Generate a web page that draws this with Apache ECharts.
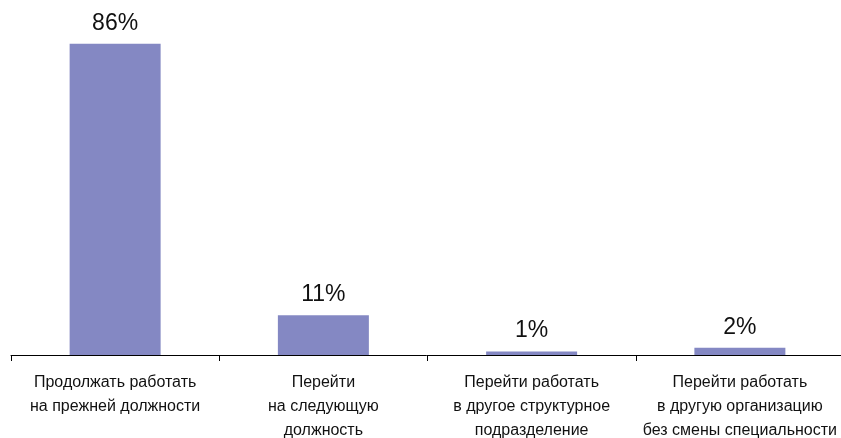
<!DOCTYPE html>
<html>
<head>
<meta charset="utf-8">
<script src="https://cdn.jsdelivr.net/npm/echarts@6/dist/echarts.min.js"></script>
<style>
  html, body { margin: 0; padding: 0; background: #ffffff; }
  #chart { width: 841px; height: 438px; }
</style>
</head>
<body>
<div id="chart"></div>
<script>
// Categories (multi-line labels) and shares in percent
const categories = [
  'Продолжать работать\nна прежней должности',
  'Перейти\nна следующую\nдолжность',
  'Перейти работать\nв другое структурное\nподразделение',
  'Перейти работать\nв другую организацию\nбез смены специальности'
];
const shares = [86, 11, 1, 2];

const chart = echarts.init(document.getElementById('chart'));
chart.setOption({
  animation: false,
  grid: { left: 11, right: -3, top: -7, bottom: 83, containLabel: false, outerBoundsMode: 'none' },
  xAxis: {
    type: 'category',
    data: categories,
    boundaryGap: true,
    axisLine: { show: true, lineStyle: { color: '#000000', width: 1 } },
    axisTick: { show: true, length: 6, inside: false, alignWithLabel: false, lineStyle: { color: '#000000' } },
    axisLabel: {
      color: '#111111',
      fontFamily: '"Liberation Sans", Arial, sans-serif',
      fontSize: 16,
      lineHeight: 24,
      margin: 16,
      interval: 0,
      hideOverlap: false
    }
  },
  yAxis: {
    type: 'value',
    min: 0,
    max: 100,
    show: false,
    splitLine: { show: false }
  },
  series: [{
    type: 'bar',
    data: shares,
    barWidth: 91,
    itemStyle: { color: '#8488c3' },
    label: {
      show: true,
      position: 'top',
      distance: 9,
      formatter: '{c}%',
      color: '#111111',
      fontFamily: '"Liberation Sans", Arial, sans-serif',
      fontSize: 23
    }
  }]
});
</script>
</body>
</html>
